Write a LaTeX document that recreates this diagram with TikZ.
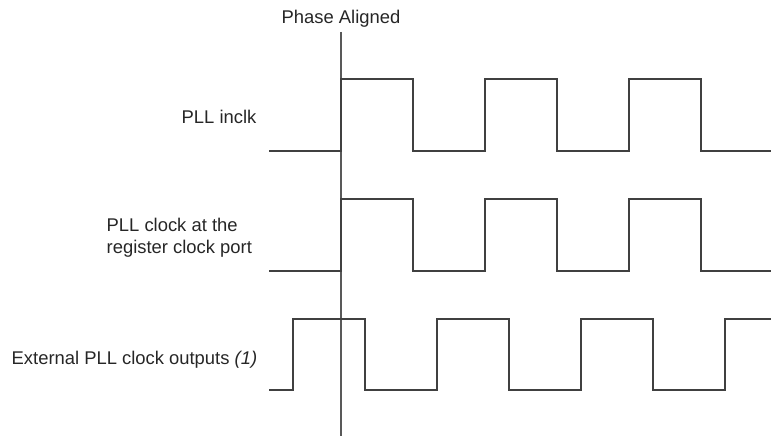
\documentclass[tikz,border=0pt]{standalone}
\usepackage{fontspec}
\setmainfont{Liberation Sans}
\begin{document}
\begin{tikzpicture}[x=0.5pt,y=-0.5pt,
  wave/.style={draw=black!75,line width=0.75pt,line join=miter},
  marker/.style={draw=black!65,line width=0.75pt},
  lbl/.style={inner sep=0pt,outer sep=0pt,text=black!85,font=\fontsize{9.2}{10.9}\selectfont}]
\useasboundingbox (0,0) rectangle (771,437);
% labels
\node[lbl,anchor=base] (phase) at (341,23.3) {Phase Aligned};
\node[lbl,anchor=base west] (l1) at (181.7,123.3) {PLL inclk};
\node[lbl,anchor=base west] (l2a) at (106.7,231.7) {PLL clock at the};
\node[lbl,anchor=base west] (l2b) at (106.7,253.4) {register clock port};
\node[lbl,anchor=base west] (l3) at (11.7,365) {External PLL clock outputs \textit{(1)}};
% phase alignment marker
\coordinate (mtop) at (341,32);
\coordinate (mbot) at (341,436);
\draw[marker] (mtop) -- (mbot);
% PLL inclk
\draw[wave] (269,151) -- (341,151) -- (341,79) -- (413,79) -- (413,151) -- (485,151) -- (485,79) -- (557,79) -- (557,151) -- (629,151) -- (629,79) -- (701,79) -- (701,151) -- (771,151);
% PLL clock at register
\draw[wave] (269,271) -- (341,271) -- (341,199) -- (413,199) -- (413,271) -- (485,271) -- (485,199) -- (557,199) -- (557,271) -- (629,271) -- (629,199) -- (701,199) -- (701,271) -- (771,271);
% External PLL clock outputs
\draw[wave] (269,390) -- (293,390) -- (293,319) -- (365,319) -- (365,390) -- (437,390) -- (437,319) -- (509,319) -- (509,390) -- (581,390) -- (581,319) -- (653,319) -- (653,390) -- (725,390) -- (725,319) -- (771,319);
\end{tikzpicture}
\end{document}
